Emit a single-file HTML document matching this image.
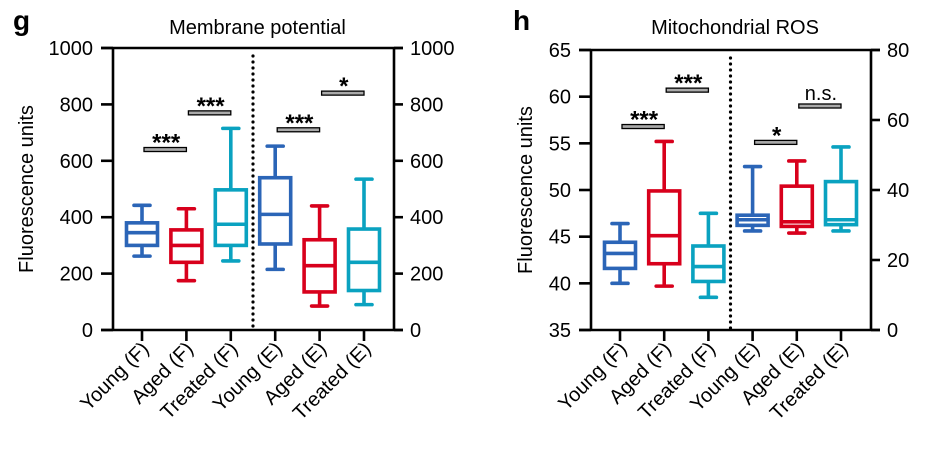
<!DOCTYPE html>
<html><head><meta charset="utf-8"><style>
body{margin:0;background:#fff;width:939px;height:452px;overflow:hidden}
svg{font-family:"Liberation Sans",Arial,sans-serif}
</style></head><body>
<svg id="c" width="939" height="452" xmlns="http://www.w3.org/2000/svg"></svg>
<script>
const categories=["Young (F)","Aged (F)","Treated (F)","Young (E)","Aged (E)","Treated (E)"];
const colors=["#2b65b7","#d8001c","#0aa2c0","#2b65b7","#d8001c","#0aa2c0"];
// panel g: [whiskerLow, q1, median, q3, whiskerHigh]
const gStats=[[262,300,345,380,442],[175,240,300,355,430],[245,300,375,497,715],[215,305,410,540,652],[85,135,228,320,440],[90,140,240,358,535]];
const gTicks=[0,200,400,600,800,1000];
const gRightTicks=[0,200,400,600,800,1000];
const gSig=[[0,1,640,"***"],[1,2,770,"***"],[3,4,710,"***"],[4,5,840,"*"]];
// panel h: F groups on left axis (35-65), E groups on right axis (0-80)
const hStats=[[40,41.6,43.2,44.4,46.4],[39.7,42.1,45.1,49.9,55.2],[38.5,40.2,41.8,44.0,47.5],[28.3,29.9,31.5,32.8,46.7],[27.7,29.6,30.9,41.1,48.3],[28.3,30.1,31.5,42.4,52.3]];
const hTicks=[35,40,45,50,55,60,65];
const hRightTicks=[0,20,40,60,80];
const hSig=[[0,1,56.8,"***",0],[1,2,60.7,"***",0],[3,4,53.6,"*",1],[4,5,64,"n.s.",1]];

const svg=document.getElementById('c');
const NS="http://www.w3.org/2000/svg";
function mk(tag,attrs,parent){const e=document.createElementNS(NS,tag);for(const k in attrs)e.setAttribute(k,attrs[k]);(parent||svg).appendChild(e);return e;}

function panel(o){
  const g=mk('g',{});
  
  
  const yL=v=>o.bottom-(v-o.lmin)/(o.lmax-o.lmin)*(o.bottom-o.top);
  const yR=v=>o.bottom-(v-o.rmin)/(o.rmax-o.rmin)*(o.bottom-o.top);
  const xC=i=>o.x0+i*o.step;
  const FS=20;
  const L=mk('text',{x:o.letterX,y:30,'font-size':28,'font-weight':'bold'},g);L.textContent=o.letter;
  
  const T=mk('text',{x:(o.left+o.right)/2+4,y:34,'font-size':FS,'text-anchor':'middle'},g);T.textContent=o.title;
  
  const yt=mk('text',{transform:`translate(${o.yTitleX},${(o.top+o.bottom)/2}) rotate(-90)`,'font-size':FS,'text-anchor':'middle'},g);yt.textContent="Fluorescence units";
  
  const st={stroke:'#000','stroke-width':2.6,fill:'none'};
  mk('line',Object.assign({x1:o.left,y1:o.top,x2:o.left,y2:o.bottom},st),g);
  mk('line',Object.assign({x1:o.right,y1:o.top,x2:o.right,y2:o.bottom},st),g);
  mk('line',Object.assign({x1:o.left-12,y1:o.top,x2:o.right+9,y2:o.top},st),g);
  mk('line',Object.assign({x1:o.left-12,y1:o.bottom,x2:o.right+9,y2:o.bottom},st),g);
  o.lt.forEach(v=>{const y=yL(v);mk('line',Object.assign({x1:o.left-12,y1:y,x2:o.left,y2:y},st),g);
    const t=mk('text',{x:o.left-20,y:y+7,'font-size':FS,'text-anchor':'end'},g);t.textContent=v;
    });
  o.rt.forEach(v=>{const y=yR(v);mk('line',Object.assign({x1:o.right,y1:y,x2:o.right+9,y2:y},st),g);
    const t=mk('text',{x:o.right+16,y:y+7,'font-size':FS},g);t.textContent=v;
    });
  const dx=(xC(2)+xC(3))/2;
  mk('line',{x1:dx,y1:o.top+8,x2:dx,y2:o.bottom,stroke:'#000','stroke-width':3.2,'stroke-dasharray':'0 6','stroke-linecap':'round'},g);
  categories.forEach((c,i)=>{
    const x=xC(i);
    mk('line',Object.assign({x1:x,y1:o.bottom,x2:x,y2:o.bottom+11},st),g);
    const t=mk('text',{transform:`translate(${x+8},${o.bottom+20}) rotate(-45)`,'font-size':FS,'text-anchor':'end'},g);t.textContent=c;
    
    const s=o.stats[i];const y=(i<3||!o.eRight)?yL:yR;
    const bg=mk('g',{stroke:colors[i],'stroke-width':3.6,fill:'none'},g);
    
    
    const hw=15.5,cw=8;
    mk('line',{x1:x,y1:y(s[0]),x2:x,y2:y(s[1])},bg);
    mk('line',{x1:x,y1:y(s[3]),x2:x,y2:y(s[4])},bg);
    mk('line',{x1:x-cw,y1:y(s[0]),x2:x+cw,y2:y(s[0]),'stroke-linecap':'round'},bg);
    mk('line',{x1:x-cw,y1:y(s[4]),x2:x+cw,y2:y(s[4]),'stroke-linecap':'round'},bg);
    mk('rect',{x:x-hw,y:y(s[3]),width:2*hw,height:y(s[1])-y(s[3])},bg);
    mk('line',{x1:x-hw,y1:y(s[2]),x2:x+hw,y2:y(s[2])},bg);
  });
  o.sig.forEach(s=>{
    const y=(s[4]?yR:yL)(s[2]);
    const b=mk('rect',{x:xC(s[0])+2,y:y-2,width:xC(s[1])-xC(s[0])-2,height:4,fill:'#aaa',stroke:'#000','stroke-width':1.3},g);
    
    const ns=s[3]==='n.s.';
    const t=mk('text',{x:(xC(s[0])+xC(s[1]))/2+2,y:ns?y-6:y+1,'font-size':ns?20:24,'font-weight':ns?'normal':'bold','text-anchor':'middle'},g);t.textContent=s[3];
    
  });
}
panel({name:'membrane-potential-chart',letter:'g',letterX:13,title:'Membrane potential',left:113,right:394,top:48,bottom:330,yTitleX:33,
  lmin:0,lmax:1000,rmin:0,rmax:1000,lt:gTicks,rt:gRightTicks,x0:142,step:44.4,stats:gStats,sig:gSig,eRight:false});
panel({name:'mitochondrial-ros-chart',letter:'h',letterX:513,title:'Mitochondrial ROS',left:591,right:871,top:50,bottom:330,yTitleX:532,
  lmin:35,lmax:65,rmin:0,rmax:80,lt:hTicks,rt:hRightTicks,x0:620,step:44.2,stats:hStats,sig:hSig,eRight:true});
</script>
</body></html>
